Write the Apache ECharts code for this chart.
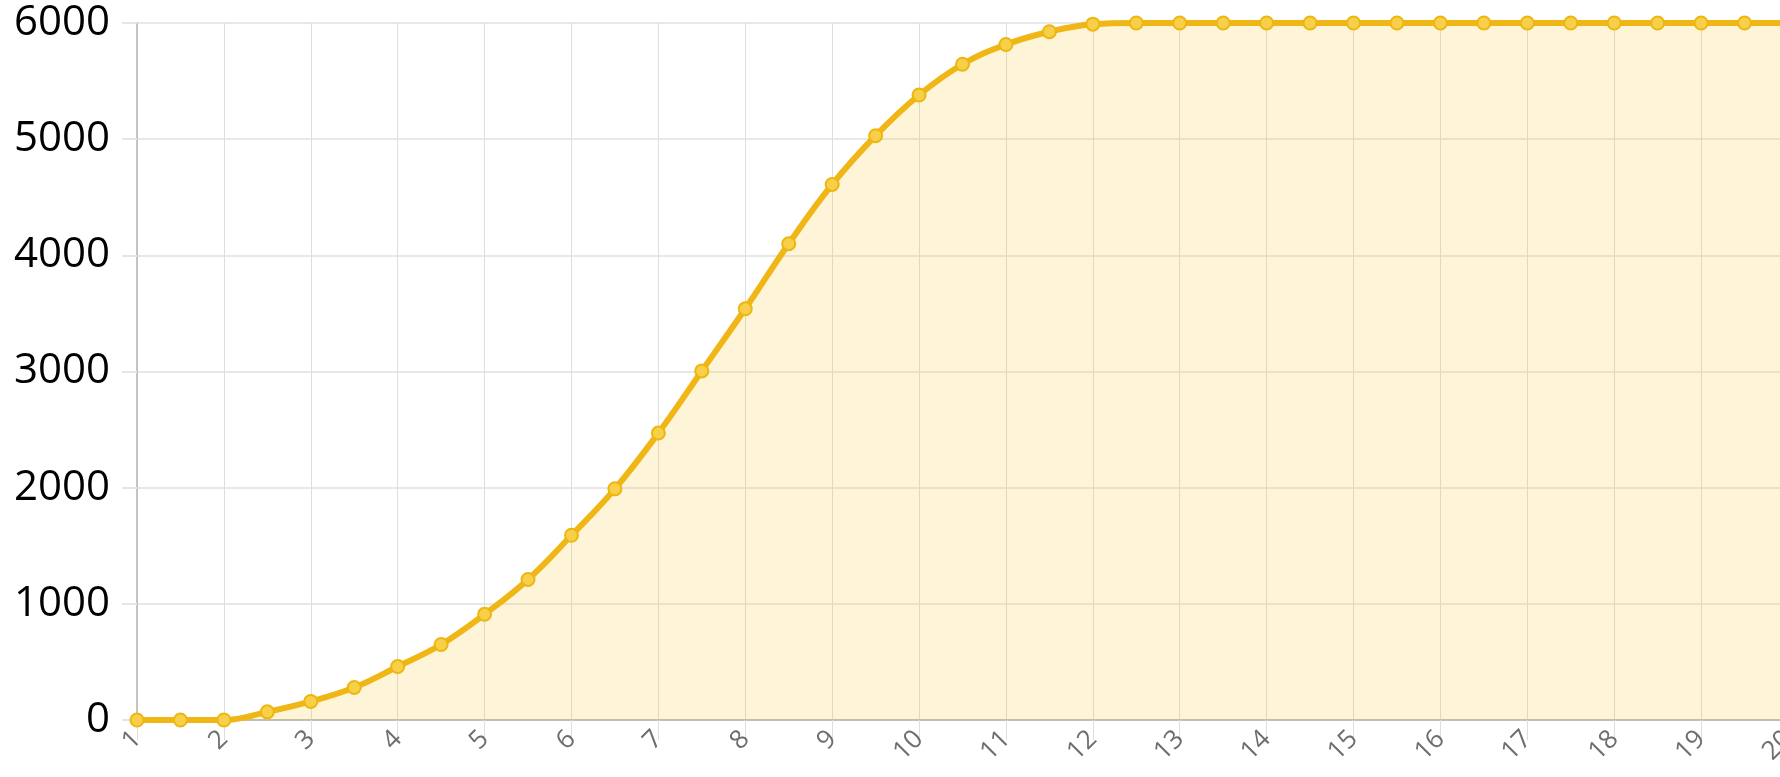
<!DOCTYPE html>
<html>
<head>
  <meta charset="utf-8">
  <title>Growth curve</title>
  <script src="https://cdn.jsdelivr.net/npm/echarts@6/dist/echarts.min.js"></script>
  <style>
    html, body { margin: 0; padding: 0; background: #fff; overflow: hidden; }
    #main { width: 1800px; height: 777px; }
  </style>
</head>
<body>
  <div id="main"></div>
  <script>
  // x positions (half steps) and values
  var xValues = [1, 1.5, 2, 2.5, 3, 3.5, 4, 4.5, 5, 5.5, 6, 6.5, 7, 7.5, 8, 8.5, 9, 9.5, 10, 10.5,
                 11, 11.5, 12, 12.5, 13, 13.5, 14, 14.5, 15, 15.5, 16, 16.5, 17, 17.5, 18, 18.5, 19, 19.5, 20];
  var yValues = [0, 0, 0, 70, 160, 280, 460, 650, 910, 1210, 1590, 1990, 2470, 3005, 3540, 4100, 4610, 5030, 5380, 5645,
                 5815, 5925, 5990, 6000, 6000, 6000, 6000, 6000, 6000, 6000, 6000, 6000, 6000, 6000, 6000, 6000, 6000, 6000, 6000];
  var yTicks = [0, 1000, 2000, 3000, 4000, 5000, 6000];

  var points = xValues.map(function (x, i) { return [x, yValues[i]]; });

  var myChart = echarts.init(document.getElementById('main'));
  myChart.setOption({
    animation: false,
    grid: { left: 137, right: 12, top: 23, bottom: 57, containLabel: false },
    xAxis: {
      type: 'value',
      min: 1,
      max: 20,
      interval: 1,
      axisLine: { show: true, onZero: false, lineStyle: { color: '#bdbdbd', width: 2 } },
      axisTick: { show: true, length: 20, lineStyle: { color: '#dedede', width: 1 } },
      splitLine: { show: true, lineStyle: { color: '#dedede', width: 1 } },
      axisLabel: {
        rotate: 45, margin: 15, color: '#6e6e6e', fontSize: 26, fontFamily: 'Open Sans',
        formatter: function (v) { return String(v); }
      }
    },
    yAxis: {
      type: 'value',
      min: yTicks[0],
      max: yTicks[yTicks.length - 1],
      interval: 1000,
      axisLine: { show: true, lineStyle: { color: '#c4c4c4', width: 2 } },
      axisTick: { show: true, length: 15, lineStyle: { color: '#e6e6e6', width: 2 } },
      splitLine: { show: true, lineStyle: { color: '#e8e8e8', width: 2 } },
      axisLabel: {
        margin: 27, color: '#000', fontSize: 42, fontFamily: 'Open Sans',
        formatter: function (v) { return String(v); }
      }
    },
    series: [{
      type: 'line',
      data: points,
      smooth: 0.4,
      symbol: 'circle',
      symbolSize: 13,
      lineStyle: { color: '#EFB615', width: 6 },
      itemStyle: { color: '#F7CF4A', borderColor: '#EDB710', borderWidth: 2 },
      areaStyle: { color: 'rgba(247,194,35,0.25)' }
    }]
  });
  </script>
</body>
</html>
